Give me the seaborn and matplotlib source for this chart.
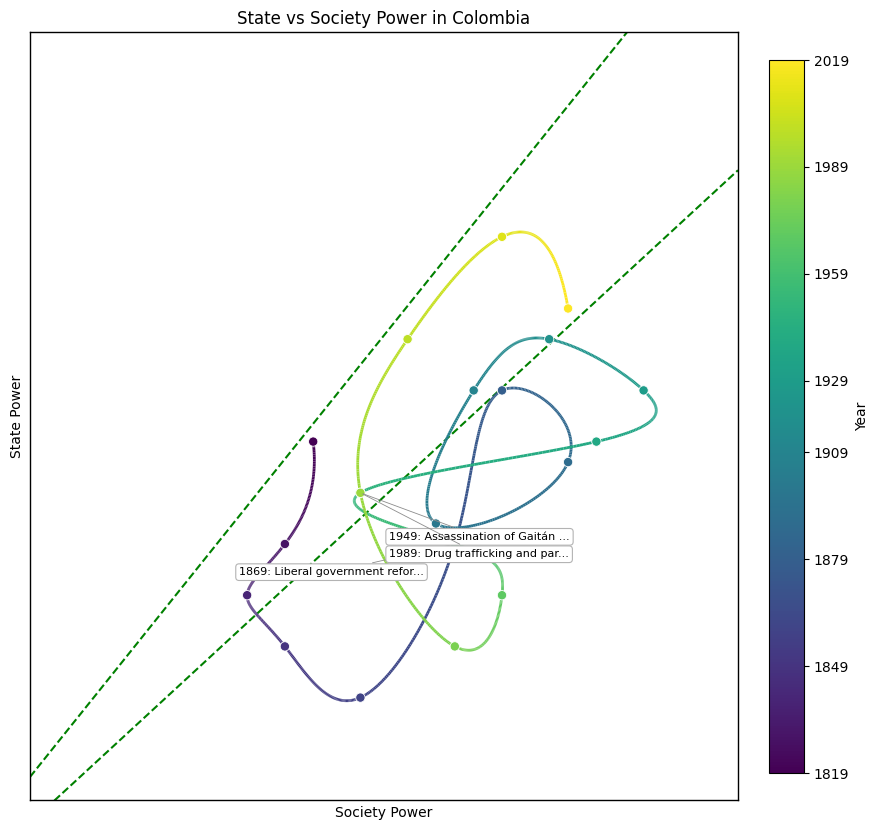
import numpy as np
import pandas as pd
import matplotlib
matplotlib.use('Agg')
import matplotlib.pyplot as plt
from matplotlib.collections import LineCollection
from matplotlib.colors import Normalize
import seaborn as sns

sns.set_style('white', {'axes.edgecolor': 'black', 'text.color': 'black',
                        'axes.labelcolor': 'black', 'xtick.color': 'black',
                        'ytick.color': 'black'})

# points
years = [1819, 1829, 1839, 1849, 1859, 1869, 1879, 1889, 1899, 1909,
         1919, 1929, 1939, 1949, 1959, 1969, 1979, 1989, 1999, 2009, 2019]
society = [9.0, 8.4, 7.6, 8.4, 10.0, 12.0, 13.0, 14.4, 11.6, 12.4,
           14.0, 16.0, 15.0, 10.0, 12.0, 13.0, 12.0, 10.0, 11.0, 13.0, 14.4]
state = [10.0, 8.0, 7.0, 6.0, 5.0, 8.0, 11.0, 9.6, 8.4, 11.0,
         12.0, 11.0, 10.0, 9.0, 8.0, 7.0, 6.0, 9.0, 12.0, 14.0, 12.6]

event_years = [1869, 1949, 1989]
event_labels = ['1869: Liberal government refor...',
                '1949: Assassination of Gaitán ...',
                '1989: Drug trafficking and par...']
label_society = [7.43, 10.61, 10.61]
label_state = [7.45, 8.14, 7.80]

cbar_ticks = [1819, 1849, 1879, 1909, 1929, 1959, 1989, 2019]
balance_slopes = [1.15, 0.85]

df = pd.DataFrame({'Year': years, 'Society': society, 'State': state})


def notaknot_spline(t, y, tt):
    # cubic spline, not-a-knot ends, solved as one dense system
    t = np.asarray(t, float)
    y = np.asarray(y, float)
    n = len(t)
    m = n - 1
    h = np.diff(t)
    A = np.zeros((4 * m, 4 * m))
    b = np.zeros(4 * m)
    r = 0
    for i in range(m):
        A[r, 4 * i] = 1
        b[r] = y[i]
        r += 1
        A[r, 4 * i:4 * i + 4] = [1, h[i], h[i] ** 2, h[i] ** 3]
        b[r] = y[i + 1]
        r += 1
    for i in range(m - 1):
        A[r, 4 * i:4 * i + 4] = [0, 1, 2 * h[i], 3 * h[i] ** 2]
        A[r, 4 * (i + 1) + 1] = -1
        r += 1
        A[r, 4 * i:4 * i + 4] = [0, 0, 2, 6 * h[i]]
        A[r, 4 * (i + 1) + 2] = -2
        r += 1
    A[r, 3] = 1
    A[r, 7] = -1
    r += 1
    A[r, 4 * (m - 2) + 3] = 1
    A[r, 4 * (m - 1) + 3] = -1
    coef = np.linalg.solve(A, b).reshape(m, 4)
    idx = np.clip(np.searchsorted(t, tt, side='right') - 1, 0, m - 1)
    d = tt - t[idx]
    c = coef[idx]
    return c[:, 0] + c[:, 1] * d + c[:, 2] * d ** 2 + c[:, 3] * d ** 3


fig = plt.figure(figsize=(8.79, 8.31), dpi=100)
ax = fig.add_axes([30 / 879, 31 / 831, 708 / 879, 768 / 831])
cax = fig.add_axes([769 / 879, 58 / 831, 35 / 879, 713 / 831])

norm = Normalize(min(years), max(years))
cmap = plt.get_cmap('viridis')

tt = np.linspace(min(years), max(years), 1500)
xs = notaknot_spline(df['Year'], df['Society'], tt)
ys = notaknot_spline(df['Year'], df['State'], tt)
pts = np.column_stack([xs, ys]).reshape(-1, 1, 2)
segs = np.concatenate([pts[:-1], pts[1:]], axis=1)
lc = LineCollection(segs, cmap=cmap, norm=norm, linewidth=2, zorder=2)
lc.set_array(0.5 * (tt[:-1] + tt[1:]))
ax.add_collection(lc)

sns.scatterplot(data=df, x='Society', y='State', hue='Year', palette='viridis',
                hue_norm=norm, s=45, edgecolor='white', linewidth=0.6,
                legend=False, ax=ax, zorder=3)

lo = min(min(society), min(state)) - 2
hi = max(max(society), max(state)) + 2
xl = np.array([lo, hi])
for k in balance_slopes:
    ax.plot(xl, k * xl, color='green', linestyle='--', linewidth=1.5, zorder=1)

ev = df.set_index('Year')
for yr, txt, tx, ty in zip(event_years, event_labels, label_society, label_state):
    ax.annotate(txt, xy=(ev.loc[yr, 'Society'], ev.loc[yr, 'State']),
                xytext=(tx, ty), fontsize=8, ha='left', va='center',
                bbox=dict(boxstyle='round,pad=0.3', fc='white', ec='0.7', lw=0.8),
                arrowprops=dict(arrowstyle='-', color='0.55', lw=0.6),
                zorder=5)

ax.set_xlim(lo, hi)
ax.set_ylim(lo, hi)
ax.set_xticks([])
ax.set_yticks([])
ax.set_xlabel('Society Power', fontsize=10)
ax.set_ylabel('State Power', fontsize=10)
ax.set_title('State vs Society Power in Colombia', fontsize=12)
for sp in ax.spines.values():
    sp.set_visible(True)
    sp.set_color('black')
    sp.set_linewidth(1.0)

sm = plt.cm.ScalarMappable(norm=norm, cmap=cmap)
cbar = fig.colorbar(sm, cax=cax, ticks=cbar_ticks)
cbar.set_label('Year', fontsize=10)
cbar.ax.tick_params(labelsize=10, length=3.5, width=0.8, direction='out', right=True)
cbar.outline.set_edgecolor('black')
cbar.outline.set_linewidth(0.8)

fig.savefig('out.png', dpi=100)
